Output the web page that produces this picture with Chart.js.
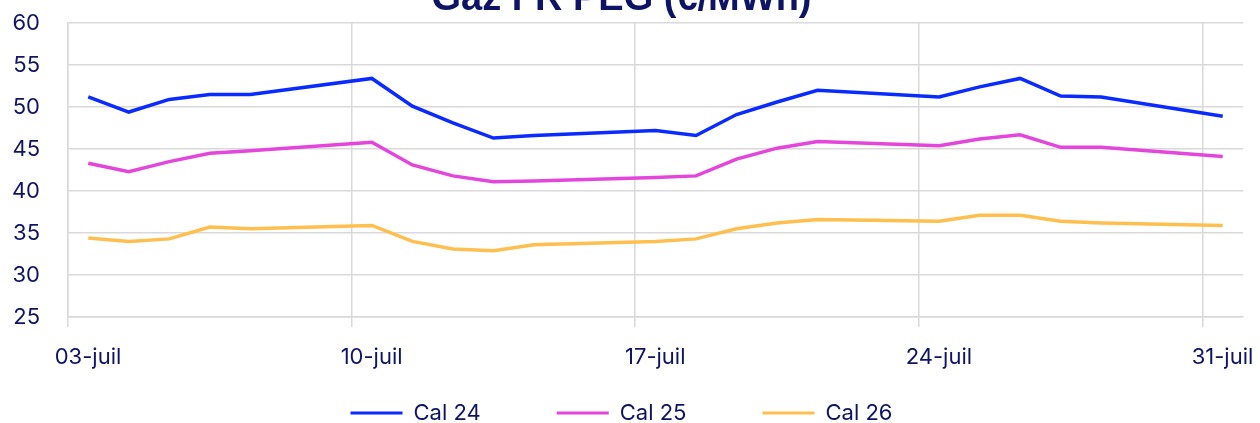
<!DOCTYPE html>
<html>
<head>
<meta charset="utf-8">
<script src="https://cdn.jsdelivr.net/npm/chart.js@4.4.0/dist/chart.umd.min.js"></script>
<style>
  html, body { margin: 0; padding: 0; background: #fff; overflow: hidden; height: 423px; }
  #wrap { position: relative; width: 1260px; height: 453px; margin-top: -19px; }
</style>
</head>
<body>
<div id="wrap"><canvas id="chart" width="1260" height="453"></canvas></div>
<script>
	'use strict';

	// Trading days of July (day of month)
	const days = [3, 4, 5, 6, 7, 10, 11, 12, 13, 14, 17, 18, 19, 20, 21, 24, 25, 26, 27, 28, 31];

	// Prices in €/MWh
	const cal24 = [51.2, 49.4, 50.9, 51.5, 51.5, 53.4, 50.1, 48.1, 46.3, 46.6, 47.2, 46.6, 49.1, 50.6, 52.0, 51.2, 52.4, 53.4, 51.3, 51.2, 48.9];
	const cal25 = [43.3, 42.3, 43.5, 44.5, 44.8, 45.8, 43.1, 41.8, 41.1, 41.2, 41.6, 41.8, 43.8, 45.1, 45.9, 45.4, 46.2, 46.7, 45.2, 45.2, 44.1];
	const cal26 = [34.4, 34.0, 34.3, 35.7, 35.5, 35.9, 34.0, 33.1, 32.9, 33.6, 34.0, 34.3, 35.5, 36.2, 36.6, 36.4, 37.1, 37.1, 36.4, 36.2, 35.9];

	// Weekly x ticks
	const tickDays = [3, 10, 17, 24, 31];
	const tickLabels = ['03-juil', '10-juil', '17-juil', '24-juil', '31-juil'];

	const ink = '#0D1466';
	const gridColor = '#d9d9d9';
	const labelFont = { family: 'Inter, "Noto Sans", sans-serif', size: 22 };

	function toPoints(values) {
		return days.map(function(d, i) {
			return { x: d, y: values[i] };
		});
	}

	function makeSeries(label, values, color) {
		return {
			label: label,
			data: toPoints(values),
			borderColor: color,
			backgroundColor: color,
			borderWidth: 3.5,
			pointRadius: 0,
			tension: 0
		};
	}

	new Chart(document.getElementById('chart').getContext('2d'), {
		type: 'line',
		data: {
			datasets: [
				makeSeries('Cal 24', cal24, '#0A2BFF'),
				makeSeries('Cal 25', cal25, '#E445DC'),
				makeSeries('Cal 26', cal26, '#FFBF4F')
			]
		},
		options: {
			responsive: false,
			animation: false,
			layout: { padding: { left: 0, right: 17, top: 0, bottom: 0 } },
			plugins: {
				title: {
					display: true,
					text: 'Gaz FR PEG (€/MWh)',
					color: ink,
					font: { family: '"Liberation Sans", Arial, sans-serif', size: 38, weight: 'bold', lineHeight: 1 },
					padding: { top: 0, bottom: 4 }
				},
				legend: {
					position: 'bottom',
					labels: {
						color: ink,
						font: labelFont,
						boxWidth: 52,
						boxHeight: 3,
						padding: 10,
						generateLabels: function(chart) {
							const items = Chart.defaults.plugins.legend.labels.generateLabels(chart);
							items.forEach(function(item, i) {
								item.lineWidth = 0;
								item.fillStyle = item.strokeStyle;
								// widen the gap between entries
								if (i < items.length - 1) {
									item.text = item.text + '\u2003\u2003\u2003';
								}
							});
							return items;
						}
					}
				},
				tooltip: { enabled: false }
			},
			scales: {
				x: {
					type: 'linear',
					min: 2.5,
					max: 31.5,
					afterBuildTicks: function(scale) {
						scale.ticks = tickDays.map(function(d) {
							return { value: d - 0.5 };
						});
					},
					afterFit: function(scale) {
						scale.height = 75;
					},
					ticks: {
						autoSkip: false,
						maxRotation: 0,
						labelOffset: 20,
						padding: 17,
						color: ink,
						font: labelFont,
						callback: function(value, index) {
							return tickLabels[index];
						}
					},
					grid: { color: gridColor, lineWidth: 1.5, tickLength: 10 },
					border: { color: gridColor, width: 1.5 }
				},
				y: {
					min: 25,
					max: 60,
					afterFit: function(scale) {
						scale.width = 68;
					},
					ticks: {
						stepSize: 5,
						padding: 28,
						color: ink,
						font: labelFont
					},
					grid: { color: gridColor, lineWidth: 1.5, drawTicks: false },
					border: { color: gridColor, width: 1.5 }
				}
			}
		}
	});
</script>
</body>
</html>
